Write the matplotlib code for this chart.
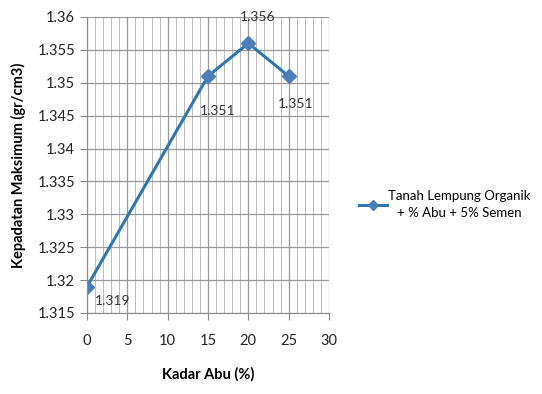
import matplotlib.pyplot as plt
from matplotlib.ticker import MultipleLocator

plt.rcParams['font.family'] = ['Lato', 'DejaVu Sans']

kadar_abu = [0, 15, 20, 25]
kepadatan = [1.319, 1.351, 1.356, 1.351]
label_text = ["1.319", "1.351", "1.356", "1.351"]
label_offset = [(6, -13), (-6, -28), (-6, 16), (-8, -23)]

fig = plt.figure(figsize=(5.42, 3.94), dpi=100)
ax = fig.add_axes([0.1605, 0.2056, 0.4465, 0.7514])

ax.plot(kadar_abu, kepadatan, color='#2E75B6', linewidth=2.2,
        marker='D', markersize=7, markerfacecolor='#4A7EBB',
        markeredgecolor='#4A7EBB', label='Tanah Lempung Organik\n+ % Abu + 5% Semen')

for x, y, t, off in zip(kadar_abu, kepadatan, label_text, label_offset):
    ax.annotate(t, (x, y), textcoords='offset points', xytext=off,
                fontsize=10, color='#333333')

ax.set_xlim(0, 30)
ax.set_ylim(1.315, 1.36)
ax.xaxis.set_major_locator(MultipleLocator(5))
ax.xaxis.set_minor_locator(MultipleLocator(1))
ax.yaxis.set_major_locator(MultipleLocator(0.005))
ax.yaxis.set_major_formatter(plt.FuncFormatter(lambda v, p: f"{v:.3f}".rstrip('0').rstrip('.')))

ax.grid(True, which='major', color='#999999', linewidth=0.9)
ax.grid(True, which='minor', axis='x', color='#BBBBBB', linewidth=0.7)
ax.set_axisbelow(True)

for s in ['top', 'right']:
    ax.spines[s].set_visible(False)
for s in ['left', 'bottom']:
    ax.spines[s].set_color('#888888')

ax.tick_params(axis='both', which='major', labelsize=10.5, colors='#888888',
               labelcolor='#222222', length=5, direction='out')
ax.tick_params(axis='x', which='minor', length=0)
ax.tick_params(axis='x', pad=10)

ax.set_xlabel('Kadar Abu (%)', fontsize=10.5, fontweight='bold', labelpad=14)
ax.set_ylabel('Kepadatan Maksimum (gr/cm3)', fontsize=10.5, fontweight='bold', labelpad=8)

leg = fig.legend(loc='center left', bbox_to_anchor=(0.662, 0.48), frameon=False,
                 fontsize=9.5, handlelength=2.1, handletextpad=0.15, markerscale=0.75,
                 borderaxespad=0, borderpad=0)
for t in leg.get_texts():
    t.set_multialignment('center')
    t.set_linespacing(1.5)

fig.savefig('out.png', dpi=100)
